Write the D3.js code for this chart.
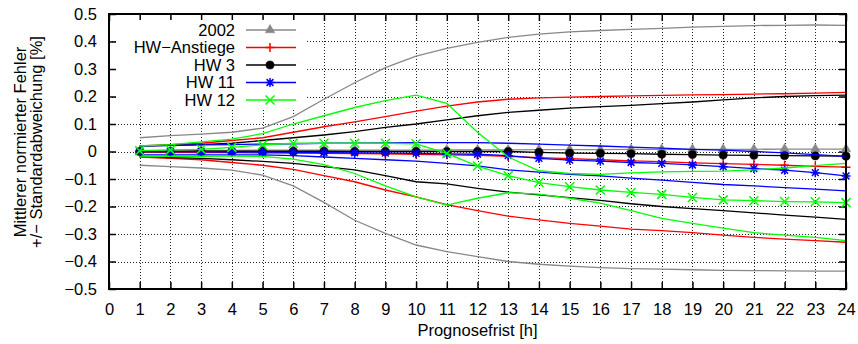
<!DOCTYPE html>
<html>
<head>
<meta charset="utf-8">
<script src="https://cdn.jsdelivr.net/npm/d3@7"></script>
<style>
  body { margin: 0; background: #fff; }
  svg { display: block; font-family: "Liberation Sans", Arial, Helvetica, sans-serif; }
</style>
</head>
<body>
<svg id="chart" width="858" height="344"></svg>
<script>
// Prognose hours
const hours = [1, 2, 3, 4, 5, 6, 7, 8, 9, 10, 11, 12, 13, 14, 15, 16, 17, 18, 19, 20, 21, 22, 23, 24];
const xTicks = [0, 1, 2, 3, 4, 5, 6, 7, 8, 9, 10, 11, 12, 13, 14, 15, 16, 17, 18, 19, 20, 21, 22, 23, 24];
const yTicks = [-0.5, -0.4, -0.3, -0.2, -0.1, 0, 0.1, 0.2, 0.3, 0.4, 0.5];

// 2002
const mean2002 = [0.0, 0.002, 0.003, 0.004, 0.005, 0.005, 0.005, 0.005, 0.005, 0.005, 0.006, 0.006, 0.006, 0.007, 0.007, 0.007, 0.008, 0.008, 0.008, 0.008, 0.008, 0.009, 0.009, 0.009];
const upper2002 = [0.05, 0.058, 0.063, 0.07, 0.085, 0.127, 0.19, 0.25, 0.305, 0.347, 0.375, 0.397, 0.415, 0.427, 0.435, 0.44, 0.444, 0.448, 0.452, 0.455, 0.458, 0.459, 0.46, 0.459];
const lower2002 = [-0.05, -0.055, -0.06, -0.068, -0.086, -0.125, -0.185, -0.25, -0.298, -0.34, -0.364, -0.382, -0.4, -0.41, -0.417, -0.422, -0.426, -0.428, -0.43, -0.432, -0.433, -0.434, -0.435, -0.435];

// HW-Anstiege
const meanAnst = [-0.002, -0.003, -0.004, -0.004, -0.005, -0.006, -0.007, -0.008, -0.009, -0.01, -0.012, -0.014, -0.018, -0.022, -0.026, -0.03, -0.034, -0.037, -0.041, -0.044, -0.047, -0.05, -0.054, -0.057];
const upperAnst = [0.02, 0.025, 0.03, 0.04, 0.05, 0.07, 0.09, 0.108, 0.127, 0.147, 0.165, 0.18, 0.19, 0.195, 0.198, 0.2, 0.202, 0.204, 0.206, 0.207, 0.209, 0.21, 0.212, 0.215];
const lowerAnst = [-0.02, -0.025, -0.03, -0.04, -0.05, -0.065, -0.088, -0.11, -0.14, -0.165, -0.193, -0.215, -0.235, -0.249, -0.261, -0.271, -0.282, -0.288, -0.295, -0.304, -0.312, -0.319, -0.324, -0.33];

// HW 3
const meanHw3 = [0.0, 0.0, 0.001, 0.001, 0.001, 0.001, 0.001, 0.0, 0.0, 0.0, 0.0, 0.0, 0.0, -0.003, -0.006, -0.007, -0.008, -0.01, -0.011, -0.013, -0.014, -0.015, -0.016, -0.017];
const upperHw3 = [0.02, 0.022, 0.025, 0.03, 0.04, 0.05, 0.06, 0.072, 0.088, 0.1, 0.115, 0.13, 0.142, 0.15, 0.158, 0.163, 0.168, 0.174, 0.18, 0.188, 0.195, 0.2, 0.203, 0.205];
const lowerHw3 = [-0.02, -0.022, -0.025, -0.03, -0.036, -0.043, -0.055, -0.067, -0.088, -0.11, -0.118, -0.134, -0.148, -0.158, -0.168, -0.178, -0.19, -0.2, -0.208, -0.215, -0.223, -0.231, -0.239, -0.247];

// HW 11
const meanHw11 = [0.0, 0.0, -0.001, -0.002, -0.002, -0.003, -0.004, -0.005, -0.006, -0.007, -0.009, -0.01, -0.015, -0.025, -0.031, -0.035, -0.04, -0.043, -0.049, -0.055, -0.062, -0.068, -0.077, -0.089];
const upperHw11 = [0.02, 0.022, 0.024, 0.025, 0.027, 0.028, 0.03, 0.03, 0.031, 0.032, 0.032, 0.032, 0.03, 0.027, 0.023, 0.02, 0.016, 0.012, 0.008, 0.005, 0.0, -0.005, -0.011, -0.018];
const lowerHw11 = [-0.012, -0.012, -0.012, -0.012, -0.012, -0.015, -0.02, -0.025, -0.03, -0.035, -0.043, -0.052, -0.067, -0.075, -0.083, -0.089, -0.097, -0.104, -0.112, -0.12, -0.125, -0.131, -0.137, -0.143];

// HW 12
const meanHw12 = [0.003, 0.006, 0.008, 0.015, 0.024, 0.03, 0.03, 0.03, 0.03, 0.028, -0.007, -0.053, -0.088, -0.113, -0.128, -0.14, -0.149, -0.156, -0.167, -0.176, -0.179, -0.182, -0.183, -0.186];
const upperHw12 = [0.02, 0.025, 0.035, 0.045, 0.065, 0.1, 0.13, 0.16, 0.185, 0.205, 0.175, 0.07, -0.02, -0.07, -0.08, -0.083, -0.078, -0.074, -0.072, -0.071, -0.067, -0.06, -0.051, -0.043];
const lowerHw12 = [-0.02, -0.018, -0.018, -0.017, -0.018, -0.028, -0.048, -0.08, -0.125, -0.165, -0.195, -0.17, -0.15, -0.155, -0.17, -0.188, -0.215, -0.243, -0.261, -0.279, -0.295, -0.304, -0.312, -0.324];

const seriesNames = ['2002', 'HW\u2212Anstiege', 'HW 3', 'HW 11', 'HW 12'];
const seriesColors = ['#888888', '#ff0000', '#000000', '#0000ff', '#00ff00'];
const seriesMarkers = ['triangle', 'plus', 'circle', 'star', 'cross'];
const seriesMeans = [mean2002, meanAnst, meanHw3, meanHw11, meanHw12];
const seriesUpper = [upper2002, upperAnst, upperHw3, upperHw11, upperHw12];
const seriesLower = [lower2002, lowerAnst, lowerHw3, lowerHw11, lowerHw12];

const svg = d3.select('#chart');
const plotLeft = 109, plotRight = 846, plotTop = 14, plotBottom = 289;
const fontSize = '16.5px';

const x = d3.scaleLinear().domain([0, 24]).range([plotLeft, plotRight]);
const y = d3.scaleLinear().domain([-0.5, 0.5]).range([plotBottom, plotTop]);

// Grid (dotted)
const grid = svg.append('g').attr('class', 'grid');
grid.selectAll('line.gx')
  .data(xTicks.slice(1, -1))
  .enter().append('line')
  .attr('class', 'gx')
  .attr('x1', d => Math.round(x(d)) + 0.5).attr('x2', d => Math.round(x(d)) + 0.5)
  .attr('y1', plotTop).attr('y2', plotBottom);
grid.selectAll('line.gy')
  .data(yTicks.slice(1, -1))
  .enter().append('line')
  .attr('class', 'gy')
  .attr('y1', d => Math.round(y(d)) + 0.5).attr('y2', d => Math.round(y(d)) + 0.5)
  .attr('x1', plotLeft).attr('x2', plotRight);
grid.selectAll('line')
  .attr('stroke', '#222')
  .attr('stroke-width', 1)
  .attr('stroke-dasharray', '1,2');

// Axes with inward ticks
function styleAxis(g) {
  g.select('.domain').remove();
  g.selectAll('.tick line').attr('stroke', '#000').attr('stroke-width', 1.5);
  g.selectAll('.tick text').attr('fill', '#000').style('font-size', fontSize)
    .style('font-family', '"Liberation Sans", Arial, sans-serif');
}

svg.append('g')
  .attr('transform', `translate(0,${plotBottom})`)
  .call(d3.axisBottom(x).tickValues(xTicks).tickFormat(d3.format('d')).tickSizeInner(-7).tickSizeOuter(0).tickPadding(14))
  .call(styleAxis);

svg.append('g')
  .attr('transform', `translate(0,${plotTop})`)
  .call(d3.axisTop(x).tickValues(xTicks).tickFormat('').tickSizeInner(-7).tickSizeOuter(0))
  .call(styleAxis);

const fmtY = d => d === 0 ? '0' : d3.format('.1f')(d).replace('-', '\u2212');
svg.append('g')
  .attr('transform', `translate(${plotLeft},0)`)
  .call(d3.axisLeft(y).tickValues(yTicks).tickFormat(fmtY).tickSizeInner(-7).tickSizeOuter(0).tickPadding(12))
  .call(styleAxis);

svg.append('g')
  .attr('transform', `translate(${plotRight},0)`)
  .call(d3.axisRight(y).tickValues(yTicks).tickFormat('').tickSizeInner(-7).tickSizeOuter(0))
  .call(styleAxis);

// Markers
function markerPath(type) {
  const s = 4.5;
  if (type === 'plus') return `M${-s},0H${s}M0,${-s}V${s}`;
  if (type === 'cross') return `M${-s},${-s}L${s},${s}M${-s},${s}L${s},${-s}`;
  if (type === 'star') {
    const t = 3.4;
    return `M${-s},0H${s}M0,${-s}V${s}M${-t},${-t}L${t},${t}M${-t},${t}L${t},${-t}`;
  }
  if (type === 'circle') return d3.symbol(d3.symbolCircle, 52)();
  if (type === 'triangle') return d3.symbol(d3.symbolTriangle, 40)();
}
function drawMarker(g, type, color) {
  const filled = type === 'circle' || type === 'triangle';
  g.append('path')
    .attr('d', markerPath(type))
    .attr('fill', filled ? color : 'none')
    .attr('stroke', color)
    .attr('stroke-width', filled ? 0.5 : 1.5);
}

const line = d3.line().x((d, i) => x(hours[i])).y(d => y(d));
const plot = svg.append('g').attr('class', 'series');

seriesNames.forEach((name, k) => {
  const color = seriesColors[k];
  const g = plot.append('g');
  [seriesUpper[k], seriesLower[k], seriesMeans[k]].forEach(vals => {
    g.append('path')
      .attr('d', line(vals))
      .attr('fill', 'none')
      .attr('stroke', color)
      .attr('stroke-width', 1.3);
  });
  seriesMeans[k].forEach((v, i) => {
    const m = g.append('g').attr('transform', `translate(${x(hours[i])},${y(v)})`);
    drawMarker(m, seriesMarkers[k], color);
  });
});

// Legend (opaque key)
const legend = svg.append('g').attr('class', 'legend');
legend.append('rect')
  .attr('x', 118).attr('y', 20).attr('width', 188).attr('height', 88)
  .attr('fill', '#fff');
seriesNames.forEach((name, k) => {
  const ly = 30 + k * 17.5;
  const row = legend.append('g').attr('transform', `translate(0,${ly})`);
  row.append('text')
    .attr('x', 235).attr('y', 0).attr('dy', '0.36em')
    .attr('text-anchor', 'end')
    .style('font-size', fontSize)
    .text(name);
  row.append('line')
    .attr('x1', 246).attr('x2', 296)
    .attr('stroke', seriesColors[k]).attr('stroke-width', 1.3);
  const m = row.append('g').attr('transform', 'translate(270,0)');
  drawMarker(m, seriesMarkers[k], seriesColors[k]);
});

// Border
svg.append('rect')
  .attr('x', plotLeft).attr('y', plotTop)
  .attr('width', plotRight - plotLeft).attr('height', plotBottom - plotTop)
  .attr('fill', 'none').attr('stroke', '#000').attr('stroke-width', 2);

// Axis labels
svg.append('text')
  .attr('x', (plotLeft + plotRight) / 2).attr('y', 336)
  .attr('text-anchor', 'middle')
  .style('font-size', fontSize)
  .text('Prognosefrist [h]');

const yl = svg.append('text')
  .attr('transform', 'translate(26,142) rotate(-90)')
  .attr('text-anchor', 'middle')
  .style('font-size', fontSize);
yl.append('tspan').attr('x', 0).attr('y', 0).text('Mittlerer normierter Fehler');
yl.append('tspan').attr('x', 0).attr('y', 16).text('+/\u2212 Standardabweichung [%]');
</script>
</body>
</html>
